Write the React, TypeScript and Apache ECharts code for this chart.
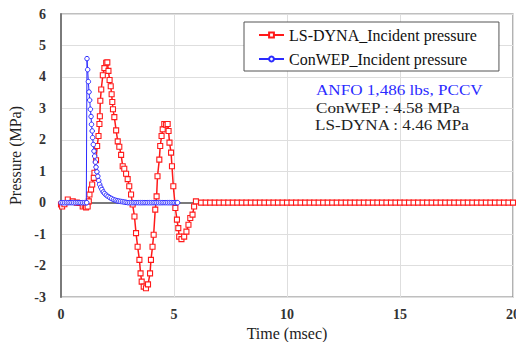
import React, { useEffect, useRef } from "react";
import * as echarts from "echarts";

const X_TICKS = [0, 5, 10, 15, 20];
const Y_TICKS = [-3, -2, -1, 0, 1, 2, 3, 4, 5, 6];

const RED_NAME = "LS-DYNA_Incident pressure";
const BLUE_NAME = "ConWEP_Incident pressure";

const RED_TIME = [
  0.0, 0.05, 0.15, 0.3, 0.52, 0.7, 0.82, 0.96, 1.05, 1.11,
  1.18, 1.23, 1.26, 1.33, 1.38, 1.45, 1.48, 1.55, 1.6, 1.66,
  1.7, 1.72, 1.74, 1.78, 1.85, 1.92, 2.0, 2.05, 2.1, 2.15,
  2.2, 2.24, 2.27, 2.3, 2.36, 2.44, 2.51, 2.58, 2.66, 2.73,
  2.8, 2.88, 2.95, 3.02, 3.1, 3.17, 3.25, 3.32, 3.39, 3.47,
  3.52, 3.57, 3.66, 3.76, 3.85, 3.94, 3.98, 4.05, 4.1, 4.17,
  4.23, 4.27, 4.35, 4.39, 4.45, 4.5, 4.57, 4.65, 4.72, 4.76,
  4.8, 4.87, 4.91, 4.97, 5.06, 5.13, 5.19, 5.23, 5.33, 5.45,
  5.55, 5.64, 5.72, 5.82, 5.89, 5.97,
];
const RED_PRESSURE = [
  -0.06, -0.12, -0.05, 0.1, 0.04, 0.0, -0.01, -0.12, -0.1, -0.15,
  -0.12, 0.04, 0.26, 0.42, 0.58, 0.79, 0.95, 1.35, 1.8, 2.12,
  2.5, 2.75, 3.24, 3.6, 4.05, 4.28, 4.45, 4.46, 4.19, 3.9,
  3.7, 3.45, 3.2, 2.97, 2.72, 2.3, 1.95, 1.78, 1.52, 1.16,
  1.08, 0.92, 0.75, 0.52, 0.26, -0.06, -0.44, -0.97, -1.4, -1.82,
  -2.25, -2.51, -2.67, -2.72, -2.6, -2.25, -1.82, -1.4, -1.02, -0.22,
  0.2, 0.84, 1.37, 1.8, 2.12, 2.33, 2.5, 2.48, 2.5, 2.28,
  1.91, 1.59, 1.16, 0.52, -0.17, -0.54, -0.81, -1.08, -1.16, -1.08,
  -0.92, -0.7, -0.49, -0.38, -0.12, 0.04,
];
const RED_TAIL_TIME = [
  6.2, 6.4, 6.6, 6.8, 7.0, 7.2, 7.4, 7.6, 7.8, 8.0,
  8.2, 8.4, 8.6, 8.8, 9.0, 9.2, 9.4, 9.6, 9.8, 10.0,
  10.2, 10.4, 10.6, 10.8, 11.0, 11.2, 11.4, 11.6, 11.8, 12.0,
  12.2, 12.4, 12.6, 12.8, 13.0, 13.2, 13.4, 13.6, 13.8, 14.0,
  14.2, 14.4, 14.6, 14.8, 15.0, 15.2, 15.4, 15.6, 15.8, 16.0,
  16.2, 16.4, 16.6, 16.8, 17.0, 17.2, 17.4, 17.6, 17.8, 18.0,
  18.2, 18.4, 18.6, 18.8, 19.0, 19.2, 19.4, 19.6, 19.8, 20.0,
];
const RED_TAIL_PRESSURE = [
  0, 0, 0, 0, 0, 0, 0, 0, 0, 0,
  0, 0, 0, 0, 0, 0, 0, 0, 0, 0,
  0, 0, 0, 0, 0, 0, 0, 0, 0, 0,
  0, 0, 0, 0, 0, 0, 0, 0, 0, 0,
  0, 0, 0, 0, 0, 0, 0, 0, 0, 0,
  0, 0, 0, 0, 0, 0, 0, 0, 0, 0,
  0, 0, 0, 0, 0, 0, 0, 0, 0, 0,
];

const BLUE_TIME = [
  0, 0.08, 0.16, 0.24, 0.32, 0.4, 0.48, 0.56, 0.64, 0.72,
  0.8, 0.88, 0.96, 1.04, 1.12, 1.14,
  1.15, 1.18, 1.21, 1.24, 1.27, 1.3, 1.33, 1.35, 1.38, 1.4,
  1.43, 1.46, 1.49, 1.52, 1.55, 1.59, 1.63, 1.67, 1.71, 1.76,
  1.81, 1.87, 1.93, 2.0, 2.08, 2.16, 2.24, 2.32, 2.4, 2.48,
  2.56, 2.64, 2.72, 2.8, 2.88,
  2.96, 3.04, 3.12, 3.2, 3.28, 3.36, 3.44, 3.52, 3.6, 3.68,
  3.76, 3.84, 3.92, 4.0, 4.08, 4.16, 4.24, 4.32, 4.4, 4.48,
  4.56, 4.64, 4.72, 4.8, 4.88, 4.96, 5.04, 5.12, 5.16,
];
const BLUE_PRESSURE = [
  0, 0, 0, 0, 0, 0, 0, 0, 0, 0,
  0, 0, 0, 0, 0, 0,
  4.58, 4.23, 3.85, 3.52, 3.26, 2.97, 2.74, 2.49, 2.28, 2.07,
  1.85, 1.64, 1.48, 1.29, 1.13, 0.98, 0.84, 0.7, 0.58, 0.49,
  0.42, 0.34, 0.29, 0.24, 0.2, 0.16, 0.13, 0.1, 0.08, 0.06,
  0.05, 0.04, 0.03, 0.02, 0.01,
  0, 0, 0, 0, 0, 0, 0, 0, 0, 0,
  0, 0, 0, 0, 0, 0, 0, 0, 0, 0,
  0, 0, 0, 0, 0, 0, 0, 0, 0,
];

const NOTE_TITLE = "ANFO 1,486 lbs, PCCV";
const NOTE_LINES = ["ConWEP : 4.58 MPa", "LS-DYNA : 4.46 MPa"];

const FONT = "'Liberation Serif', 'Times New Roman', serif";
const RED = "#ff1a1a";
const BLUE = "#2b2bff";

export default function App() {
  const ref = useRef<HTMLDivElement>(null);

  useEffect(() => {
    document.body.style.margin = "0";
    if (!ref.current) return;
    const chart = echarts.init(ref.current, null, { renderer: "svg" });

    const redData = RED_TIME.map((t, i) => [t, RED_PRESSURE[i]]).concat(
      RED_TAIL_TIME.map((t, i) => [t, RED_TAIL_PRESSURE[i]])
    );
    const blueData = BLUE_TIME.map((t, i) => [t, BLUE_PRESSURE[i]]);

    const noteText = (text: string, x: number, y: number, fill: string) => ({
      type: "text",
      x,
      y,
      z: 10,
      scaleX: 1.18,
      style: {
        text,
        fill,
        font: `14.5px ${FONT}`,
        align: "left",
        verticalAlign: "middle",
      },
    });

    chart.setOption({
      animation: false,
      backgroundColor: "#ffffff",
      textStyle: { fontFamily: FONT },
      grid: {
        left: 61,
        right: 3,
        top: 14,
        bottom: 45,
        containLabel: false,
        outerBoundsMode: "none",
        show: true,
        borderColor: "#808080",
        borderWidth: 1.2,
      },
      legend: {
        orient: "vertical",
        left: 244,
        top: 22,
        padding: [5, 22, 4, 14],
        itemGap: 8,
        itemWidth: 25,
        itemHeight: 6,
        borderColor: "#555",
        borderWidth: 1,
        backgroundColor: "#ffffff",
        textStyle: { fontFamily: FONT, fontSize: 16, color: "#111" },
        data: [RED_NAME, BLUE_NAME],
      },
      xAxis: {
        type: "value",
        min: X_TICKS[0],
        max: X_TICKS[X_TICKS.length - 1],
        interval: 5,
        name: "Time (msec)",
        nameLocation: "middle",
        nameGap: 27,
        nameTextStyle: { fontFamily: FONT, fontSize: 16, color: "#222" },
        axisLine: { show: true, lineStyle: { color: "#7a7a7a", width: 2 } },
        axisTick: { show: false },
        axisLabel: {
          margin: 10,
          fontFamily: FONT,
          fontSize: 14,
          fontWeight: "bold",
          color: "#333",
          showMaxLabel: true,
        },
        splitLine: { show: true, lineStyle: { color: "#dedede", width: 1 } },
      },
      yAxis: {
        type: "value",
        min: Y_TICKS[0],
        max: Y_TICKS[Y_TICKS.length - 1],
        interval: 1,
        name: "Pressure (MPa)",
        nameLocation: "middle",
        nameGap: 38,
        nameTextStyle: { fontFamily: FONT, fontSize: 16, color: "#222" },
        axisLine: { show: true, onZero: false, lineStyle: { color: "#7a7a7a", width: 2 } },
        axisTick: { show: false },
        axisLabel: {
          margin: 15,
          fontFamily: FONT,
          fontSize: 14,
          fontWeight: "bold",
          color: "#333",
        },
        splitLine: { show: true, lineStyle: { color: "#dedede", width: 1 } },
      },
      graphic: [
        noteText(NOTE_TITLE, 316, 90, BLUE),
        noteText(NOTE_LINES[0], 316, 108, "#222"),
        noteText(NOTE_LINES[1], 315, 125, "#222"),
      ],
      series: [
        {
          name: RED_NAME,
          type: "line",
          data: redData,
          symbol: "rect",
          symbolSize: 5,
          showAllSymbol: true,
          lineStyle: { color: RED, width: 1.5 },
          itemStyle: { color: "#ffffff", borderColor: RED, borderWidth: 1.1 },
          z: 2,
        },
        {
          name: BLUE_NAME,
          type: "line",
          data: blueData,
          symbol: "circle",
          symbolSize: 4.5,
          showAllSymbol: true,
          lineStyle: { color: BLUE, width: 1 },
          itemStyle: { color: "#ffffff", borderColor: BLUE, borderWidth: 1 },
          z: 3,
        },
      ],
    });

    return () => chart.dispose();
  }, []);

  return <div ref={ref} style={{ width: 516, height: 342 }} />;
}
